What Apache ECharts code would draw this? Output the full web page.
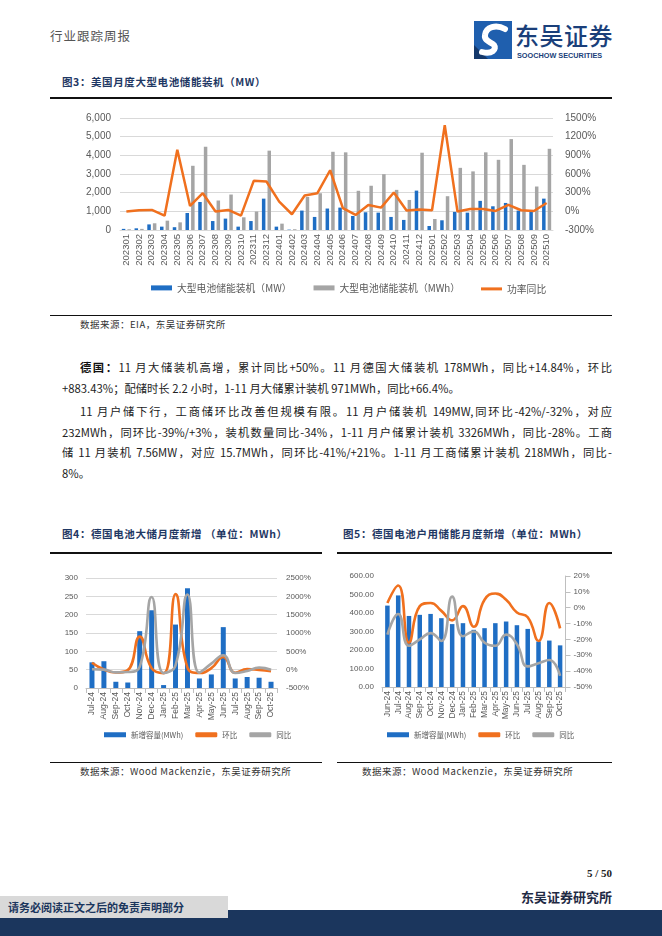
<!DOCTYPE html>
<html><head><meta charset="utf-8">
<script src="https://cdn.jsdelivr.net/npm/echarts@6/dist/echarts.min.js"></script>
<style>
html,body{margin:0;padding:0;background:#fff}
body{width:662px;height:936px;position:relative;overflow:hidden;font-family:"Noto Sans CJK SC","Liberation Sans",sans-serif;color:#222}
.a{position:absolute;white-space:nowrap}
.title{font-size:10.5px;font-weight:bold;color:#1F3864;letter-spacing:0.6px}
.rule{position:absolute;height:1.5px;background:#111}
.src{font-size:9.5px;color:#333;letter-spacing:0.5px}
.ln{position:absolute;font-size:11.3px;line-height:20px;height:20px;color:#222;white-space:normal;overflow:hidden}
.j{text-align:justify;text-align-last:justify}
.chart{position:absolute}
</style></head>
<body>
<div class="a" style="left:50px;top:26px;font-size:12.5px;color:#555;letter-spacing:1px">行业跟踪周报</div>
<svg class="a" style="left:474px;top:21px" width="38" height="38" viewBox="0 0 38 38">
  <rect x="0" y="0" width="38" height="38" fill="#1F5FAE"/>
  <path d="M0 38 L0 24 L14 38 Z" fill="#14386B"/>
  <path d="M31 8 C22 3 12 6 11 14 C10 20 17 21 20 24 C23 28 18 34 8 31" stroke="#fff" stroke-width="6" fill="none" stroke-linecap="round"/>
</svg>
<div class="a" style="left:515px;top:17px;font-size:24px;font-weight:500;color:#1A3F7A;letter-spacing:0.5px">东吴证券</div>
<div class="a" style="left:517px;top:51px;font-size:7.3px;font-weight:bold;color:#1A3F7A;font-family:'Liberation Sans',sans-serif">SOOCHOW SECURITIES</div>

<div class="a title" style="left:62px;top:74px">图3：美国月度大型电池储能装机（MW）</div>
<div class="rule" style="left:50px;top:97px;width:562px"></div>
<div id="c1" class="chart" style="left:0;top:100px;width:662px;height:210px"></div>
<div class="rule" style="left:50px;top:315px;width:562px;height:1px"></div>
<div class="a src" style="left:80px;top:317px">数据来源：EIA，东吴证券研究所</div>

<div class="ln j" style="left:80px;top:357px;width:532px"><b style="color:#111">德国：</b>11 月大储装机高增，累计同比+50%。11 月德国大储装机 178MWh，同比+14.84%，环比</div>
<div class="ln" style="left:62px;top:378px;width:550px">+883.43%；配储时长 2.2 小时，1-11 月大储累计装机 971MWh，同比+66.4%。</div>
<div class="ln j" style="left:80px;top:401px;width:532px">11 月户储下行，工商储环比改善但规模有限。11 月户储装机 149MW,同环比-42%/-32%，对应</div>
<div class="ln j" style="left:62px;top:422px;width:550px">232MWh，同环比-39%/+3%，装机数量同比-34%，1-11 月户储累计装机 3326MWh，同比-28%。工商</div>
<div class="ln j" style="left:62px;top:442px;width:550px">储 11 月装机 7.56MW，对应 15.7MWh，同环比-41%/+21%。1-11 月工商储累计装机 218MWh，同比-</div>
<div class="ln" style="left:62px;top:463px;width:550px">8%。</div>

<div class="a title" style="left:62px;top:526px">图4：德国电池大储月度新增 （单位：MWh）</div>
<div class="rule" style="left:50px;top:552px;width:272px"></div>
<div class="a title" style="left:343px;top:526px">图5：德国电池户用储能月度新增（单位：MWh）</div>
<div class="rule" style="left:337px;top:552px;width:275px"></div>
<div id="c4" class="chart" style="left:0;top:560px;width:331px;height:190px"></div>
<div id="c5" class="chart" style="left:331px;top:560px;width:331px;height:190px"></div>
<div class="rule" style="left:50px;top:762px;width:272px;height:1px"></div>
<div class="rule" style="left:337px;top:762px;width:275px;height:1px"></div>
<div class="a src" style="left:80px;top:764px">数据来源：Wood Mackenzie，东吴证券研究所</div>
<div class="a src" style="left:362px;top:764px">数据来源：Wood Mackenzie，东吴证券研究所</div>

<div class="a" style="right:50px;top:867px;font-size:11px;font-weight:bold;font-family:'Liberation Serif',serif">5 / 50</div>
<div class="a" style="right:50px;top:887px;font-size:13px;font-weight:bold;color:#1F2A44">东吴证券研究所</div>
<div class="a" style="left:0;top:910px;width:662px;height:26px;background:#1B365D"></div>
<div class="a" style="left:0;top:896px;width:228px;height:22px;background:#D9D9D9"></div>
<div class="a" style="left:8px;top:899px;font-size:11px;font-weight:bold;color:#1B365D">请务必阅读正文之后的免责声明部分</div>

<script>
// ---------- Chart 1 data ----------
const months1 = ['202301','202302','202303','202304','202305','202306','202307','202308','202309','202310','202311','202312',
  '202401','202402','202403','202404','202405','202406','202407','202408','202409','202410','202411','202412',
  '202501','202502','202503','202504','202505','202506','202507','202508','202509','202510'];
const usMW  = [60,90,300,180,150,910,1500,480,610,180,480,1680, 180,20,1040,700,1150,1200,750,950,930,700,540,2110, 215,520,970,930,1560,1270,1450,1040,970,1680];
const usMWh = [40,60,360,500,410,3440,4460,1580,1900,680,990,4250, 340,40,1770,1970,4190,4160,2100,2370,2990,2150,1610,4140, 590,1810,3330,3140,4160,3760,4870,3490,2330,4350];
const usYoY = [-4,17,22,-70,990,87,291,-4,22,-70,490,480, 157,-47,254,291,660,50,-58,103,60,302,12,28, 17,1383,-4,39,39,6,103,17,6,135];
const names1 = ['大型电池储能装机（MW）','大型电池储能装机（MWh）','功率同比'];

// ---------- Chart 4 data ----------
const months4 = ['Jul-24','Aug-24','Sep-24','Oct-24','Nov-24','Dec-24','Jan-25','Feb-25','Mar-25','Apr-25','May-25','Jun-25','Jul-25','Aug-25','Sep-25','Oct-25'];
const deUtil    = [70,73,17,15,155,212,8,173,272,26,37,166,26,30,28,17];
const deUtilMoM = [190,5,-77,-12,900,37,-96,2060,57,-90,42,349,-84,15,-7,-39];
const deUtilYoY = [10,0,-75,-65,80,1980,-90,120,2050,-80,165,395,-90,-35,55,0];

// ---------- Chart 5 data ----------
const months5 = ['Jun-24','Jul-24','Aug-24','Sep-24','Oct-24','Nov-24','Dec-24','Jan-25','Feb-25','Mar-25','Apr-25','May-25','Jun-25','Jul-25','Aug-25','Sep-25','Oct-25'];
const deHome    = [440,495,384,390,395,372,340,345,309,318,345,354,334,314,246,251,225];
const deHomeMoM = [3,14,-22,1,3,-2,-8,1,-12,5,9,5,-3,-6,-21,3,-13];
const deHomeYoY = [-17,-4,-24,-20,-16,-21,7,-18,-15,-22,-24,-17,-23,-37,-35,-33,-43];
const names45 = ['新增容量(MWh)','环比','同比'];

const BLUE = '#1F6EC4', GRAY = '#A5A5A5', ORANGE = '#F0701E';
const LAB = '#595959', GRID = '#D9D9D9';
const CJK = '"Noto Sans CJK SC", sans-serif';
const LAT = '"Liberation Sans", Arial, sans-serif';
const pct = v => v + '%';

const c1 = echarts.init(document.getElementById('c1'), null, {renderer:'canvas'});
c1.setOption({
  animation:false,
  grid:{left:120, width:433, top:18, height:112},
  legend:[
    {top:178, left:146, itemGap:22, itemWidth:21, itemHeight:5,
     textStyle:{fontSize:9.8, color:LAB, fontFamily:CJK},
     data:[{name:names1[0], icon:'rect'},{name:names1[1], icon:'rect'}]},
    {top:179, left:476, itemWidth:21, itemHeight:3,
     textStyle:{fontSize:9.8, color:LAB, fontFamily:CJK},
     data:[{name:names1[2], icon:'rect'}]}
  ],
  xAxis:{type:'category', data:months1,
    axisLine:{lineStyle:{color:GRID}}, axisTick:{show:false},
    axisLabel:{rotate:90, interval:0, fontSize:9.5, color:LAB, fontFamily:LAT, margin:4}},
  yAxis:[
    {type:'value', min:0, max:6000, interval:1000,
     axisLabel:{fontSize:10, color:LAB, fontFamily:LAT, margin:9, formatter:v=>v.toLocaleString('en-US')},
     splitLine:{lineStyle:{color:GRID}}},
    {type:'value', min:-300, max:1500, interval:300,
     axisLabel:{fontSize:10, color:LAB, fontFamily:LAT, margin:12, formatter:pct},
     splitLine:{show:false}}
  ],
  series:[
    {name:names1[0], type:'bar', data:usMW, barWidth:3.5, barGap:'60%', itemStyle:{color:BLUE}},
    {name:names1[1], type:'bar', data:usMWh, barWidth:3.5, itemStyle:{color:GRAY}},
    {name:names1[2], type:'line', yAxisIndex:1, data:usYoY, symbol:'none', lineStyle:{color:ORANGE, width:2.5}, itemStyle:{color:ORANGE}}
  ]
});

function smallChart(el, cats, bars, mom, yoy, cfg){
  const ch = echarts.init(document.getElementById(el), null, {renderer:'canvas'});
  ch.setOption({
    animation:false,
    grid:cfg.grid,
    legend:{top:166, left:cfg.legendLeft, itemGap:12, itemWidth:22, itemHeight:5,
      textStyle:{fontSize:7.5, color:LAB, fontFamily:CJK},
      data:[{name:names45[0], icon:'rect'},{name:names45[1], icon:'roundRect'},{name:names45[2], icon:'roundRect'}]},
    xAxis:{type:'category', data:cats,
      axisLine:{lineStyle:{color:'#BFBFBF'}}, axisTick:{show:true, lineStyle:{color:'#BFBFBF'}},
      axisLabel:{rotate:90, interval:0, fontSize:8.5, color:LAB, fontFamily:LAT, margin:4}},
    yAxis:[
      Object.assign({type:'value', axisLabel:{fontSize:8, color:LAB, fontFamily:LAT, margin:cfg.lm, formatter:cfg.lf},
        splitLine:{show:cfg.split, lineStyle:{color:GRID}}}, cfg.left),
      Object.assign({type:'value', axisLabel:{fontSize:8, color:LAB, fontFamily:LAT, margin:cfg.rm, formatter:pct},
        axisLine:{show:cfg.rline, lineStyle:{color:'#BFBFBF'}}, axisTick:{show:cfg.rline, lineStyle:{color:'#BFBFBF'}},
        splitLine:{show:false}}, cfg.right)
    ],
    series:[
      {name:names45[0], type:'bar', data:bars, barWidth:cfg.bw, itemStyle:{color:BLUE}},
      {name:names45[1], type:'line', yAxisIndex:1, data:mom, smooth:true, symbol:'none', lineStyle:{color:ORANGE, width:2.6}, itemStyle:{color:ORANGE}},
      {name:names45[2], type:'line', yAxisIndex:1, data:yoy, smooth:true, symbol:'none', lineStyle:{color:GRAY, width:2.6}, itemStyle:{color:GRAY}}
    ]
  });
}
smallChart('c4', months4, deUtil, deUtilMoM, deUtilYoY, {
  grid:{left:86, width:191, top:18, height:110}, legendLeft:99, bw:5, lm:8, rm:9, split:true, rline:false,
  lf:'{value}', left:{min:0, max:300, interval:50}, right:{min:-500, max:2500, interval:500}
});
smallChart('c5', months5, deHome, deHomeMoM, deHomeYoY, {
  grid:{left:51, width:183.5, top:16, height:111}, legendLeft:51, bw:4.5, lm:8, rm:8, split:false, rline:true,
  lf:v=>v.toFixed(2), left:{min:0, max:600, interval:100}, right:{min:-50, max:20, interval:10}
});
</script>
</body></html>
